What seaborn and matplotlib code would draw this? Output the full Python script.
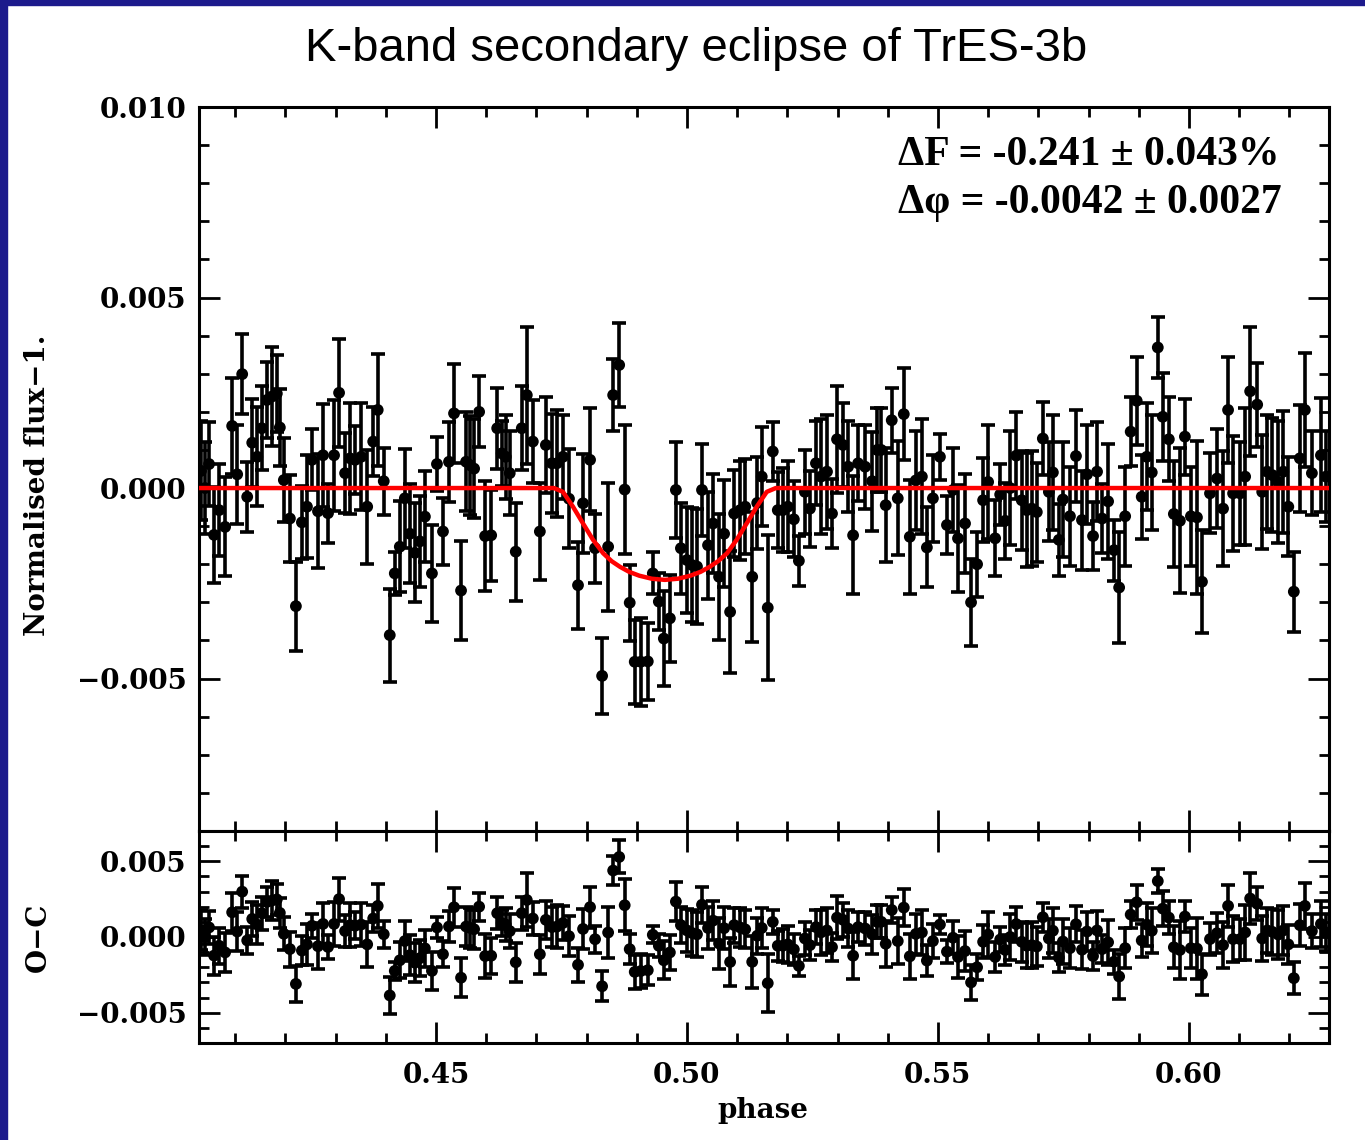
import numpy as np
import pandas as pd
import matplotlib
matplotlib.use("Agg")
import matplotlib.pyplot as plt
from matplotlib.ticker import MultipleLocator, FuncFormatter
from matplotlib.patches import Rectangle
import seaborn as sns

# binned K-band light curve (flux and errors in units of 1e-3)
phase = [
    0.4032, 0.4040, 0.4048, 0.4058, 0.4068, 0.4080, 0.4094, 0.4104, 0.4114, 0.4124,
    0.4134, 0.4144, 0.4153, 0.4163, 0.4173, 0.4183, 0.4189, 0.4197, 0.4209, 0.4221,
    0.4233, 0.4243, 0.4253, 0.4265, 0.4275, 0.4285, 0.4297, 0.4307, 0.4319, 0.4329,
    0.4339, 0.4351, 0.4363, 0.4375, 0.4384, 0.4396, 0.4408, 0.4418, 0.4428, 0.4438,
    0.4448, 0.4458, 0.4468, 0.4478, 0.4492, 0.4502, 0.4514, 0.4526, 0.4536, 0.4550,
    0.4560, 0.4568, 0.4576, 0.4586, 0.4598, 0.4610, 0.4622, 0.4631, 0.4639, 0.4647,
    0.4659, 0.4671, 0.4681, 0.4693, 0.4707, 0.4719, 0.4731, 0.4741, 0.4753, 0.4765,
    0.4783, 0.4793, 0.4807, 0.4817, 0.4831, 0.4843, 0.4853, 0.4865, 0.4876, 0.4886,
    0.4896, 0.4908, 0.4922, 0.4932, 0.4944, 0.4954, 0.4966, 0.4978, 0.4988, 0.5000,
    0.5010, 0.5020, 0.5030, 0.5042, 0.5052, 0.5064, 0.5074, 0.5086, 0.5094, 0.5106,
    0.5116, 0.5130, 0.5140, 0.5149, 0.5161, 0.5171, 0.5181, 0.5191, 0.5201, 0.5213,
    0.5223, 0.5235, 0.5245, 0.5257, 0.5267, 0.5279, 0.5289, 0.5299, 0.5311, 0.5321,
    0.5331, 0.5341, 0.5355, 0.5369, 0.5379, 0.5387, 0.5396, 0.5408, 0.5420, 0.5432,
    0.5444, 0.5456, 0.5468, 0.5478, 0.5490, 0.5504, 0.5518, 0.5530, 0.5540, 0.5554,
    0.5566, 0.5578, 0.5590, 0.5600, 0.5614, 0.5624, 0.5634, 0.5644, 0.5656, 0.5667,
    0.5677, 0.5687, 0.5697, 0.5709, 0.5721, 0.5729, 0.5741, 0.5749, 0.5763, 0.5775,
    0.5787, 0.5797, 0.5809, 0.5817, 0.5827, 0.5839, 0.5851, 0.5861, 0.5873, 0.5884,
    0.5896, 0.5906, 0.5916, 0.5926, 0.5938, 0.5948, 0.5960, 0.5970, 0.5982, 0.5992,
    0.6004, 0.6016, 0.6026, 0.6042, 0.6056, 0.6068, 0.6078, 0.6088, 0.6102, 0.6112,
    0.6122, 0.6136, 0.6146, 0.6156, 0.6166, 0.6178, 0.6188, 0.6198, 0.6209, 0.6221,
    0.6231, 0.6245, 0.6263, 0.6273,
]
flux = [
    0.45, 0.00, 0.63, -1.23, -0.58, -1.02, 1.63, 0.36, 2.99, -0.23,
    1.19, 0.82, 1.57, 2.31, 2.40, 2.48, 1.59, 0.21, -0.80, -3.10,
    -0.90, -0.49, 0.74, -0.61, 0.86, -0.66, 0.86, 2.50, 0.39, 0.78,
    0.74, 0.82, -0.49, 1.22, 2.05, 0.18, -3.86, -2.24, -1.54, -0.27,
    -1.20, -1.70, -1.40, -0.75, -2.24, 0.63, -1.14, 0.69, 1.96, -2.69,
    0.69, 0.60, 0.51, 2.00, -1.26, -1.24, 1.57, 0.91, 0.82, 0.39,
    -1.67, 1.57, 2.44, 1.22, -1.14, 1.13, 0.65, 0.65, 0.82, -0.28,
    -2.55, -0.40, 0.74, -1.58, -4.93, -1.54, 2.44, 3.23, -0.04, -3.01,
    -4.56, -4.56, -4.55, -2.24, -2.98, -3.95, -3.42, -0.05, -1.58, -1.89,
    -2.02, -2.06, -0.05, -1.50, -0.93, -2.33, -1.20, -3.25, -0.67, -0.58,
    -0.49, -2.33, -0.39, 0.30, -3.14, 0.96, -0.58, -0.58, -0.49, -0.82,
    -1.91, -0.10, -0.54, 0.65, 0.30, 0.43, -0.67, 1.28, 1.13, 0.56,
    -1.24, 0.65, 0.56, 0.18, 1.00, 1.00, -0.45, 1.78, -0.27, 1.94,
    -1.28, 0.20, 0.30, -1.56, -0.27, 0.82, -0.97, -0.05, -1.32, -0.93,
    -3.00, -2.00, -0.32, 0.16, -1.32, -0.17, -0.86, 0.00, 0.85, -0.32,
    -0.58, -0.54, -0.63, 1.30, -0.10, 0.41, -1.36, -0.30, -0.74, 0.84,
    -0.84, 0.36, -1.26, 0.43, -0.80, -0.35, -1.63, -2.61, -0.74, 1.48,
    2.29, -0.23, 0.82, 0.41, 3.69, 1.87, 1.28, -0.68, -0.86, 1.35,
    -0.74, -0.77, -2.46, -0.14, 0.25, -0.54, 2.05, -0.14, -0.14, 0.30,
    2.54, 2.19, -0.10, 0.43, 0.34, 0.16, 0.43, -0.49, -2.72, 0.78,
    2.05, 0.39, 0.86, 0.30,
]
err = [
    1.30, 1.20, 1.10, 1.25, 1.20, 1.30, 1.25, 1.30, 1.05, 0.92,
    1.15, 1.30, 1.10, 1.00, 1.30, 1.00, 1.00, 1.10, 1.15, 1.17,
    0.95, 1.35, 0.80, 1.50, 1.35, 0.77, 1.45, 1.42, 1.05, 1.45,
    0.90, 1.40, 1.50, 0.90, 1.48, 0.88, 1.22, 0.57, 1.20, 1.30,
    1.30, 1.30, 1.20, 1.20, 1.28, 0.72, 0.87, 1.05, 1.30, 1.29,
    1.30, 1.30, 1.30, 0.93, 1.45, 1.20, 1.06, 0.85, 1.10, 1.10,
    1.29, 1.10, 1.80, 1.10, 1.28, 1.25, 1.30, 1.40, 1.10, 1.30,
    1.14, 1.30, 1.35, 0.90, 1.00, 1.68, 0.95, 1.09, 1.70, 1.00,
    1.10, 1.15, 1.00, 0.55, 0.75, 1.25, 1.15, 1.27, 1.20, 1.40,
    1.50, 1.50, 1.20, 1.40, 1.30, 1.66, 1.40, 1.60, 1.15, 1.30,
    1.25, 1.70, 1.20, 1.30, 1.90, 0.78, 1.00, 1.10, 1.20, 1.00,
    0.66, 1.10, 1.00, 1.10, 1.50, 1.50, 0.90, 1.40, 1.10, 1.20,
    1.55, 1.00, 1.10, 1.30, 1.10, 1.10, 1.50, 0.85, 1.50, 1.20,
    1.50, 1.30, 1.50, 1.05, 1.15, 0.60, 0.75, 1.10, 1.40, 1.30,
    1.15, 0.85, 1.10, 1.50, 1.00, 0.80, 1.00, 1.50, 1.15, 1.30,
    1.50, 1.50, 1.30, 0.95, 1.30, 1.50, 0.95, 1.50, 1.30, 1.20,
    1.30, 1.30, 0.90, 1.30, 0.90, 1.50, 0.80, 1.46, 1.30, 0.90,
    1.15, 1.10, 1.40, 1.50, 0.79, 1.15, 1.10, 1.40, 1.90, 1.00,
    1.30, 2.00, 1.35, 1.05, 1.30, 1.50, 1.40, 1.50, 1.35, 1.80,
    1.70, 1.10, 1.50, 1.50, 1.50, 1.60, 1.60, 1.30, 1.05, 1.40,
    1.50, 1.10, 1.50, 1.20,
]

# best-fit eclipse model (units of 1e-3)
model_phase = [
    0.4028, 0.4735, 0.4753, 0.4773, 0.4793, 0.4813, 0.4833, 0.4850, 0.4867, 0.4885,
    0.4905, 0.4930, 0.4956, 0.4982, 0.5007, 0.5027, 0.5045, 0.5062, 0.5080, 0.5099,
    0.5119, 0.5139, 0.5159, 0.5177, 0.6279,
]
model_flux = [
    0.00, 0.00, -0.10, -0.49, -0.93, -1.36, -1.71, -1.92, -2.07, -2.20,
    -2.30, -2.38, -2.41, -2.38, -2.30, -2.20, -2.07, -1.92, -1.71, -1.36,
    -0.93, -0.49, -0.10, 0.00, 0.00,
]

title = "K-band secondary eclipse of TrES-3b"
note_lines = ["\u0394F = -0.241 \u00b1 0.043%", "\u0394\u03c6 = -0.0042 \u00b1 0.0027"]

df = pd.DataFrame({"phase": phase,
                   "flux": np.array(flux) * 1e-3,
                   "err": np.array(err) * 1e-3})
mdl = pd.DataFrame({"phase": model_phase, "flux": np.array(model_flux) * 1e-3})
df["oc"] = df["flux"] - np.interp(df["phase"], mdl["phase"], mdl["flux"])

sns.set_theme(style="ticks")
plt.rcParams["font.family"] = ["DejaVu Serif"]
plt.rcParams["axes.linewidth"] = 2.2
plt.rcParams["axes.edgecolor"] = "black"
plt.rcParams["text.color"] = "black"
plt.rcParams["xtick.color"] = "black"
plt.rcParams["ytick.color"] = "black"

fig = plt.figure(figsize=(13.65, 11.4), dpi=100)
fig.patch.set_facecolor("white")
ax1 = fig.add_axes([0.1458, 0.2711, 0.8278, 0.6350])
ax2 = fig.add_axes([0.1458, 0.0851, 0.8278, 0.1860])

xlim = (0.4028, 0.6279)


def minus_fmt(nd):
    def f(v, pos):
        s = f"{v:.{nd}f}"
        if s.startswith("-") and float(s) == 0:
            s = s[1:]
        return s.replace("-", "\u2212")
    return FuncFormatter(f)


for ax, ycol in [(ax1, "flux"), (ax2, "oc")]:
    ax.errorbar(df["phase"], df[ycol], yerr=df["err"], fmt="none", ecolor="black",
                elinewidth=2.6, capsize=4.8, capthick=2.6, zorder=2)
    sns.scatterplot(data=df, x="phase", y=ycol, color="black", s=72,
                    edgecolor="none", ax=ax, zorder=3)
    ax.set_xlim(*xlim)
    ax.xaxis.set_major_locator(MultipleLocator(0.05))
    ax.xaxis.set_minor_locator(MultipleLocator(0.01))
    ax.yaxis.set_major_locator(MultipleLocator(0.005))
    ax.yaxis.set_minor_locator(MultipleLocator(0.001))
    ax.tick_params(which="both", direction="in", top=True, right=True, width=2.0,
                   labelsize=20, colors="black")
    ax.tick_params(which="major", length=15, pad=9)
    ax.tick_params(which="minor", length=7.5)
    ax.set_xlabel("")
    ax.set_ylabel("")
    ax.yaxis.set_major_formatter(minus_fmt(3))

sns.lineplot(data=mdl, x="phase", y="flux", color="#ff0000", lw=3.2, ax=ax1, zorder=5)
ax1.set_ylim(-0.009, 0.010)
ax1.set_xlabel("")
ax1.set_ylabel("")
ax1.tick_params(labelbottom=False)

ax2.set_ylim(-0.007, 0.007)
ax2.xaxis.set_major_formatter(FuncFormatter(lambda v, p: f"{v:.2f}"))
ax2.tick_params(axis="x", which="major", pad=14)
for lab in ax2.get_xticklabels() + ax2.get_yticklabels() + ax1.get_yticklabels():
    lab.set_fontweight("bold")

# labels and text
fig.text(0.0278, 0.5746, "Normalised flux\u22121.", rotation=90, ha="center", va="center",
         fontsize=20, fontweight="bold")
fig.text(0.0278, 0.178, "O\u2212C", rotation=90, ha="center", va="center",
         fontsize=20, fontweight="bold")
fig.text(0.559, 0.0263, "phase", ha="center", va="center", fontsize=20, fontweight="bold")
fig.text(0.510, 0.957, title, ha="center", va="center", fontsize=34,
         family=["Liberation Sans", "DejaVu Sans"])
for line, yb in zip(note_lines, [0.8553, 0.8132]):
    fig.text(0.658, yb, line, ha="left", va="baseline", fontsize=30, fontweight="bold",
             family=["Liberation Serif", "DejaVu Serif"])

# slide frame
navy = "#1c1a8c"
fig.patches.append(Rectangle((0, 0), 0.0051, 1, transform=fig.transFigure, color=navy))
fig.patches.append(Rectangle((0, 0.9956), 1, 0.0044, transform=fig.transFigure, color=navy))

fig.savefig("out.png", dpi=100, facecolor="white")
plt.close(fig)
